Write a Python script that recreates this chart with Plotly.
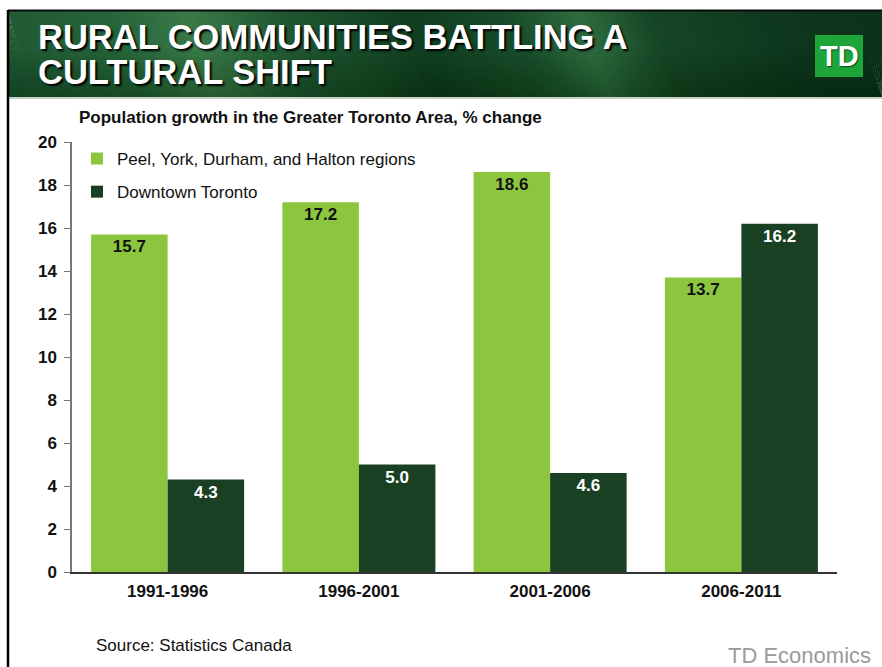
import plotly.graph_objects as go

# ---- data ----
periods = ["1991-1996", "1996-2001", "2001-2006", "2006-2011"]
suburbs_growth = [15.7, 17.2, 18.6, 13.7]
downtown_growth = [4.3, 5.0, 4.6, 16.2]
suburbs_name = "Peel, York, Durham, and Halton regions"
downtown_name = "Downtown Toronto"
y_ticks = [0, 2, 4, 6, 8, 10, 12, 14, 16, 18, 20]

W, H = 882, 667
LIGHT = "#8CC63F"
DARK = "#1A4024"
BODY_FONT = "Liberation Sans, Arial, sans-serif"

# plot area in pixels
L, R, T, B = 72, 45, 142, 95
PW, PH = W - L - R, H - T - B


def px(x):
    return (x - L) / PW


def py(y):
    return (H - B - y) / PH


fig = go.Figure()
fig.add_trace(go.Bar(
    x=periods, y=suburbs_growth, name=suburbs_name, legendgroup="a",
    marker=dict(color=LIGHT, line=dict(width=0)),
    text=[f"{v:.1f}" for v in suburbs_growth], textposition="inside",
    insidetextanchor="end", textangle=0, constraintext="none",
    textfont=dict(family=BODY_FONT, size=17, color="#111111", weight="bold"),
))
fig.add_trace(go.Bar(
    x=periods, y=downtown_growth, name=downtown_name, legendgroup="b",
    marker=dict(color=DARK, line=dict(width=0)),
    text=[f"{v:.1f}" for v in downtown_growth], textposition="inside",
    insidetextanchor="end", textangle=0, constraintext="none",
    textfont=dict(family=BODY_FONT, size=17, color="#ffffff", weight="bold"),
))

# ---- header band: slanted slices forming a shaded green gradient ----
stops = [(0, (32, 88, 50)), (120, (38, 100, 58)), (200, (58, 122, 72)),
         (290, (32, 88, 50)), (420, (16, 62, 32)), (520, (24, 76, 42)),
         (590, (46, 108, 62)), (660, (22, 70, 38)), (780, (14, 56, 30)),
         (882, (12, 50, 26))]


def color_at(x):
    for (x0, c0), (x1, c1) in zip(stops[:-1], stops[1:]):
        if x0 <= x <= x1:
            t = (x - x0) / (x1 - x0)
            return "rgb(%d,%d,%d)" % tuple(round(a + (b - a) * t) for a, b in zip(c0, c1))
    return "rgb(%d,%d,%d)" % stops[-1][1]


shapes = []
hx0, hy0, hy1 = 8, 11, 97
step = 6
slant = 30
x = hx0 - slant
while x < W + slant:
    c = color_at(min(max(x + slant / 2, 0), W))
    xa, xb = x, x + step + 1
    path = "M %f,%f L %f,%f L %f,%f L %f,%f Z" % (
        px(max(xa, hx0)), py(hy0), px(min(max(xb, hx0), W)), py(hy0),
        px(min(max(xb + slant, hx0), W)), py(hy1), px(min(max(xa + slant, hx0), W)), py(hy1))
    shapes.append(dict(type="path", xref="paper", yref="paper", path=path,
                       fillcolor=c, line=dict(width=0), layer="below"))
    x += step

# darker shading toward the bottom of the band
for i in range(8):
    y0 = hy0 + 40 + i * 6
    shapes.append(dict(type="rect", xref="paper", yref="paper",
                       x0=px(hx0), x1=px(W), y0=py(y0), y1=py(hy1),
                       fillcolor="rgba(0,20,8,0.04)", line=dict(width=0), layer="below"))

# top edge of the band, bottom separator, left border
shapes.append(dict(type="line", xref="paper", yref="paper", x0=px(hx0), x1=px(W),
                   y0=py(10.5), y1=py(10.5), line=dict(color="#0a0a0a", width=2)))
shapes.append(dict(type="line", xref="paper", yref="paper", x0=px(hx0), x1=px(W),
                   y0=py(98), y1=py(98), line=dict(color="#c8cfc9", width=2)))
shapes.append(dict(type="line", xref="paper", yref="paper", x0=px(8), x1=px(8),
                   y0=py(10), y1=py(H), line=dict(color="#000000", width=2.5)))

# logo square
shapes.append(dict(type="rect", xref="paper", yref="paper", x0=px(815), x1=px(863),
                   y0=py(77), y1=py(35), fillcolor="#1DA53A", line=dict(width=0)))

title_font = dict(family=BODY_FONT, size=34.5, color="#ffffff", weight="bold",
                  shadow="2px 2px 2px #000000")
annotations = [
    dict(text="RURAL COMMUNITIES BATTLING A", x=px(36), y=py(36.5), xanchor="left",
         yanchor="middle", font=title_font),
    dict(text="CULTURAL SHIFT", x=px(36), y=py(71.5), xanchor="left", yanchor="middle",
         font=title_font),
    dict(text="TD", x=px(839), y=py(56), xanchor="center", yanchor="middle",
         font=dict(family=BODY_FONT, size=29, color="#ffffff", weight="bold",
                   shadow="1px 1px 1px #0a4a1a")),
    dict(text="Population growth in the Greater Toronto Area, % change", x=px(77), y=py(118),
         xanchor="left", yanchor="middle",
         font=dict(family=BODY_FONT, size=17, color="#111111", weight="bold")),
    dict(text="Source: Statistics Canada", x=px(94), y=py(645), xanchor="left", yanchor="middle",
         font=dict(family=BODY_FONT, size=17, color="#111111")),
    dict(text="TD Economics", x=px(873), y=py(655), xanchor="right", yanchor="middle",
         font=dict(family=BODY_FONT, size=22, color="#9a9a9a")),
]
for a in annotations:
    a.update(xref="paper", yref="paper", showarrow=False)

fig.update_layout(
    width=W, height=H,
    margin=dict(l=L, r=R, t=T, b=B, pad=0),
    paper_bgcolor="#ffffff", plot_bgcolor="#ffffff",
    barmode="group", bargap=0.2, bargroupgap=0,
    showlegend=True,
    legend=dict(x=px(77), y=py(141), xanchor="left", yanchor="top",
                bgcolor="rgba(0,0,0,0)", traceorder="grouped", tracegroupgap=8,
                font=dict(family=BODY_FONT, size=17, color="#111111"),
                itemwidth=30),
    shapes=shapes,
    annotations=annotations,
    xaxis=dict(showline=True, linecolor="#333333", linewidth=1.5, ticks="",
               showgrid=False, zeroline=False, ticklabelstandoff=3,
               tickfont=dict(family=BODY_FONT, size=17, color="#111111", weight="bold")),
    yaxis=dict(range=[0, 20], tickvals=y_ticks, showline=True, linecolor="#777777",
               linewidth=1.5, ticks="outside", ticklen=6, tickcolor="#777777",
               showgrid=False, zeroline=False, ticklabelstandoff=4,
               tickfont=dict(family=BODY_FONT, size=17, color="#111111", weight="bold")),
)

fig.write_html("out.html")
